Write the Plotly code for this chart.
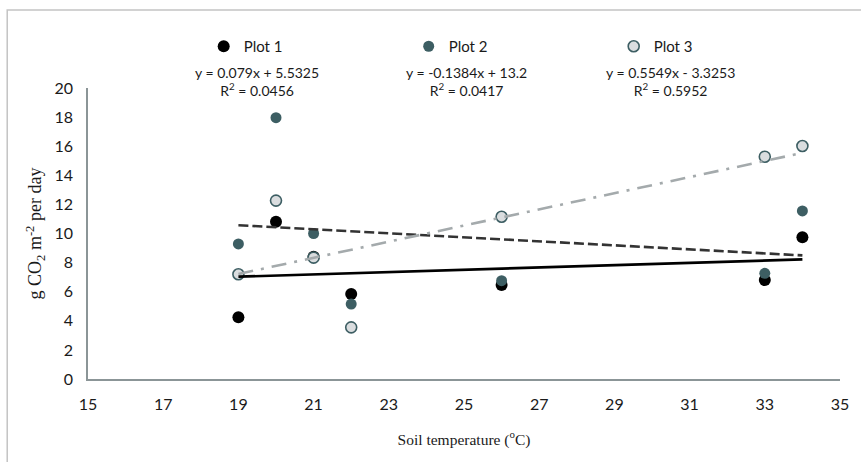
import plotly.graph_objects as go
import numpy as np

# Data
temps1 = [19, 20, 21, 22, 26, 33, 34]
plot1 = [4.24, 10.81, 8.4, 5.84, 6.46, 6.8, 9.74]
temps2 = [19, 20, 21, 22, 26, 33, 34]
plot2 = [9.28, 17.96, 10.0, 5.15, 6.76, 7.26, 11.55]
temps3 = [19, 20, 21, 22, 26, 33, 34]
plot3 = [7.2, 12.26, 8.34, 3.55, 11.15, 15.28, 16.01]

series_names = ["Plot 1", "Plot 2", "Plot 3"]
slopes = [0.079, -0.1384, 0.5549]
intercepts = [5.5325, 13.2, -3.3253]
eq_texts = ["y = 0.079x + 5.5325<br>R<sup>2</sup> = 0.0456",
            "y = -0.1384x + 13.2<br>R<sup>2</sup> = 0.0417",
            "y = 0.5549x - 3.3253<br>R<sup>2</sup> = 0.5952"]
x_ticks = list(range(15, 36, 2))
y_ticks = list(range(0, 21, 2))

W, H = 861, 462
L, R, T, B = 88, 19, 88, 83
pw, ph = W - L - R, H - T - B

def px(x):
    return (x - L) / pw

def py(y):
    return (H - B - y) / ph

sans = "Lato, 'Liberation Sans', sans-serif"
serif = "'Liberation Serif', 'DejaVu Serif', serif"
teal = "#3d5e63"

fig = go.Figure()
fig.add_trace(go.Scatter(x=temps1, y=plot1, mode="markers", name=series_names[0],
                         marker=dict(size=12, color="#000000", line=dict(width=0))))
fig.add_trace(go.Scatter(x=temps2, y=plot2, mode="markers", name=series_names[1],
                         marker=dict(size=11, color=teal, line=dict(width=0))))
fig.add_trace(go.Scatter(x=temps3, y=plot3, mode="markers", name=series_names[2],
                         marker=dict(size=11, color="#dadddf", line=dict(width=1.6, color=teal))))

line_styles = [dict(color="#000000", width=2.6, dash="solid"),
               dict(color="#333333", width=2.6, dash="10px,4px"),
               dict(color="#a4aaac", width=2.6, dash="15px,8px,3px,8px")]
all_x = [temps1, temps2, temps3]
for i in range(3):
    xs = np.array([min(all_x[i]), max(all_x[i])], dtype=float)
    ys = slopes[i] * xs + intercepts[i]
    fig.add_trace(go.Scatter(x=xs, y=ys, mode="lines", showlegend=False,
                             line=line_styles[i], hoverinfo="skip"))

eq_px = [257, 468, 672]
for i in range(3):
    fig.add_annotation(x=px(eq_px[i]), y=py(81), xref="paper", yref="paper",
                       text=eq_texts[i], showarrow=False, xanchor="center", yanchor="middle",
                       font=dict(family=sans, size=14, color="#1a1a1a"), align="center")

fig.add_shape(type="path", xref="paper", yref="paper",
              path=f"M {px(7)} {py(470)} L {px(7)} {py(10)} L {px(870)} {py(10)}",
              line=dict(color="#c4c4c4", width=1.5))

fig.update_layout(
    width=W, height=H,
    margin=dict(l=L, r=R, t=T, b=B),
    plot_bgcolor="white", paper_bgcolor="white",
    showlegend=True,
    legend=dict(orientation="h", x=px(204), y=py(30), xanchor="left", yanchor="top",
                entrywidth=160, entrywidthmode="pixels", itemwidth=30,
                font=dict(family=sans, size=15, color="#1a1a1a"), bgcolor="rgba(0,0,0,0)"),
    xaxis=dict(range=[15, 35], tickvals=x_ticks, ticktext=[str(t) for t in x_ticks],
               showgrid=False, zeroline=False, showline=True, linecolor="#8b9597", linewidth=1.5,
               ticks="outside", ticklen=10, tickcolor="rgba(0,0,0,0)",
               tickfont=dict(family=sans, size=16, color="#1a1a1a"),
               title=dict(text="Soil temperature (<sup>o</sup>C)", standoff=22,
                          font=dict(family=serif, size=15.5, color="#1a1a1a"))),
    yaxis=dict(range=[0, 20], tickvals=y_ticks, ticktext=[str(t) for t in y_ticks],
               showgrid=False, zeroline=False, showline=True, linecolor="#8b9597", linewidth=1.5,
               ticks="outside", ticklen=10, tickcolor="rgba(0,0,0,0)",
               tickfont=dict(family=sans, size=16, color="#1a1a1a"),
               title=dict(text="g CO<sub>2</sub> m<sup>-2</sup> per day", standoff=8,
                          font=dict(family=serif, size=18, color="#1a1a1a"))),
)

fig.write_html("out.html", config={"displayModeBar": False},
               post_script="document.body.style.margin='0';")
